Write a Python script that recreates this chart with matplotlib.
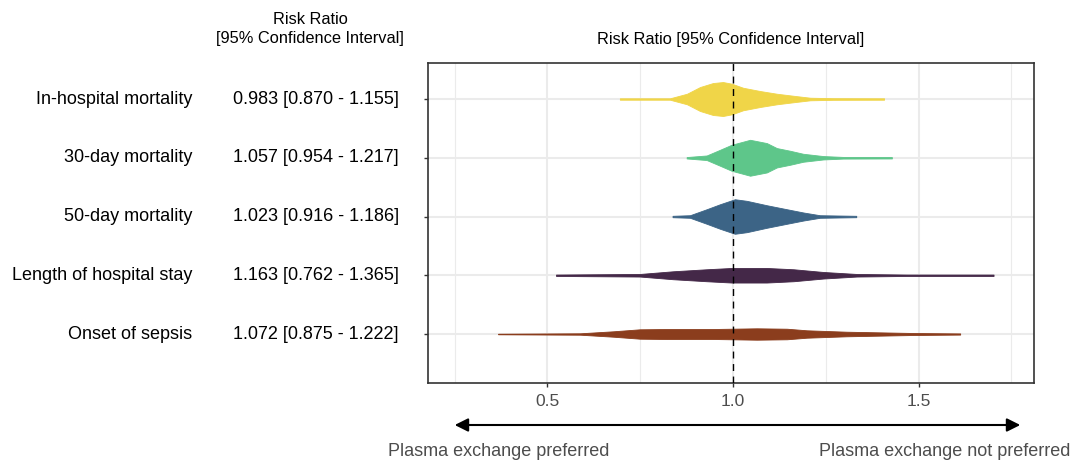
import numpy as np
import matplotlib
matplotlib.use("Agg")
import matplotlib.pyplot as plt

plt.rcParams['font.family'] = ['Liberation Sans', 'DejaVu Sans']

# outcomes, top to bottom
outcomes = ["In-hospital mortality", "30-day mortality", "50-day mortality",
            "Length of hospital stay", "Onset of sepsis"]
rr = [0.983, 1.057, 1.023, 1.163, 1.072]
ci_lo = [0.870, 0.954, 0.916, 0.762, 0.875]
ci_hi = [1.155, 1.217, 1.186, 1.365, 1.222]
colors = ["#F0D548", "#5EC68A", "#3C6486", "#442848", "#8B3D1D"]

# violin outlines: risk ratio vs half width (row units)
prof_x = [
    [0.695, 0.83, 0.876, 0.911, 0.946, 0.973, 0.997, 1.027, 1.073, 1.118, 1.162, 1.208, 1.27, 1.407],
    [0.875, 0.929, 0.965, 0.996, 1.046, 1.091, 1.118, 1.154, 1.189, 1.243, 1.297, 1.428],
    [0.837, 0.884, 0.929, 0.965, 1.005, 1.037, 1.091, 1.145, 1.19, 1.234, 1.332],
    [0.523, 0.749, 0.839, 0.929, 0.996, 1.091, 1.163, 1.243, 1.333, 1.468, 1.702],
    [0.367, 0.588, 0.677, 0.749, 0.821, 0.946, 1.064, 1.145, 1.199, 1.306, 1.486, 1.612],
]
prof_w = [
    [0.012, 0.012, 0.090, 0.204, 0.272, 0.289, 0.260, 0.192, 0.136, 0.090, 0.056, 0.022, 0.014, 0.012],
    [0.012, 0.039, 0.136, 0.221, 0.306, 0.250, 0.165, 0.119, 0.068, 0.029, 0.014, 0.012],
    [0.012, 0.022, 0.124, 0.209, 0.294, 0.267, 0.192, 0.124, 0.068, 0.022, 0.012],
    [0.012, 0.022, 0.068, 0.102, 0.124, 0.124, 0.102, 0.056, 0.022, 0.012, 0.012],
    [0.005, 0.012, 0.046, 0.080, 0.085, 0.085, 0.097, 0.090, 0.063, 0.039, 0.017, 0.010],
]

xticks = [0.5, 1.0, 1.5]
minor = [0.25, 0.75, 1.25, 1.75]

fig = plt.figure(figsize=(10.74, 4.62), dpi=100)
ax = fig.add_axes([428/1074, 1 - 383/462, (1034-428)/1074, (383-63)/462])

grid_c = "#EBEBEB"
for m in minor:
    ax.axvline(m, color=grid_c, lw=0.8, zorder=0)
for t in xticks:
    ax.axvline(t, color=grid_c, lw=1.5, zorder=0)
for i in range(len(outcomes)):
    ax.axhline(i, color=grid_c, lw=1.5, zorder=0)

for i in range(len(outcomes)):
    x = np.array(prof_x[i])
    w = np.array(prof_w[i])
    ax.fill_between(x, i - w, i + w, color=colors[i], lw=0.6, edgecolor=colors[i], zorder=2)

ax.axvline(1.0, color="black", lw=1.0, ls=(0, (5, 4)), zorder=3)

ax.set_xlim(0.178, 1.811)
ax.set_ylim(4.834, -0.613)
ax.set_xticks(xticks)
ax.set_xticklabels(["0.5", "1.0", "1.5"], fontsize=12.5, color="#4D4D4D")
ax.set_yticks(range(len(outcomes)))
ax.set_yticklabels([])
ax.tick_params(axis='both', length=3, width=1, color="#333333")
ax.tick_params(axis='x', pad=5)
for s in ax.spines.values():
    s.set_color("#333333")
    s.set_linewidth(1.2)

ax.set_title("Risk Ratio [95% Confidence Interval]", fontsize=11.75, pad=14)

# left hand text columns
fig.text(310/1074, 1 - 19/462, "Risk Ratio", ha="center", va="center", fontsize=11.75)
fig.text(310/1074, 1 - 39/462, "[95% Confidence Interval]", ha="center", va="center", fontsize=11.75)
for i, name in enumerate(outcomes):
    ydisp = ax.transData.transform((0, i))[1] / fig.bbox.height
    fig.text(192/1074, ydisp, name, ha="right", va="center", fontsize=13)
    fig.text(316/1074, ydisp, f"{rr[i]:.3f} [{ci_lo[i]:.3f} - {ci_hi[i]:.3f}]",
             ha="center", va="center", fontsize=13)

# direction arrow
ax.annotate("", xy=(1.774, 1 - 425/462), xytext=(0.25, 1 - 425/462),
            xycoords=("data", "figure fraction"), textcoords=("data", "figure fraction"),
            arrowprops=dict(arrowstyle="<|-|>", color="black", lw=1.5,
                            mutation_scale=20, shrinkA=0, shrinkB=0))
fig.text(388/1074, 1 - 452/462, "Plasma exchange preferred", ha="left", va="center",
         fontsize=13, color="#4D4D4D")
fig.text(1070/1074, 1 - 452/462, "Plasma exchange not preferred", ha="right", va="center",
         fontsize=13, color="#4D4D4D")

fig.savefig("out.png", dpi=100)
